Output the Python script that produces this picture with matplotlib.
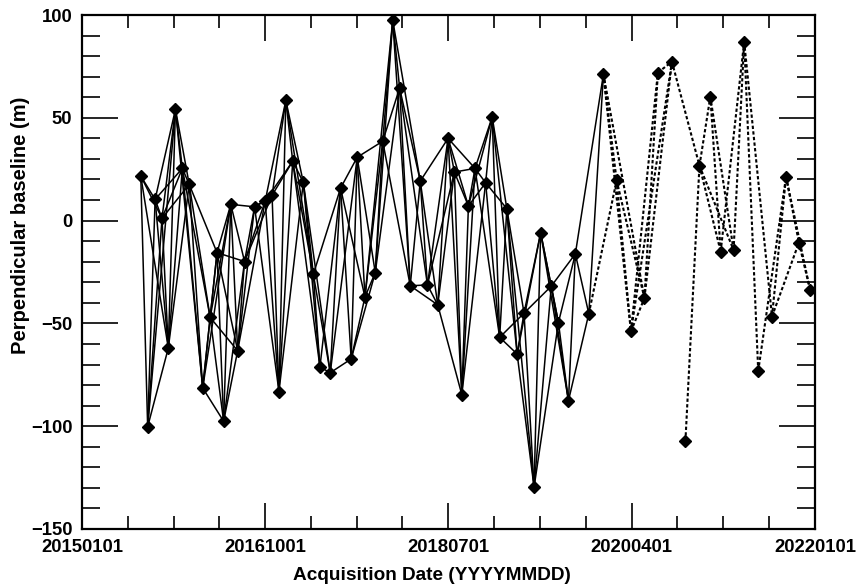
import matplotlib
matplotlib.use("Agg")
import matplotlib.pyplot as plt
import matplotlib.dates as mdates
from matplotlib.ticker import FixedLocator, MultipleLocator
import pandas as pd
import numpy as np

plt.rcParams['font.family'] = ['Liberation Sans', 'DejaVu Sans']
plt.rcParams['font.weight'] = 'bold'

# acquisition dates (YYYYMMDD)
dates = [
    "20150725", "20150818", "20150913", "20151007", "20151029", "20151123",
    "20151217", "20160110", "20160226", "20160323", "20160416", "20160509",
    "20160603", "20160627", "20160721", "20160825", "20161001", "20161025",
    "20161118", "20161212", "20170105", "20170211", "20170318", "20170410",
    "20170516", "20170621", "20170728", "20170818", "20170914", "20171020",
    "20171115", "20171220", "20180113", "20180219", "20180326", "20180420",
    "20180526", "20180701", "20180723", "20180818", "20180910", "20181003",
    "20181109", "20181202", "20181228", "20190122", "20190227", "20190323",
    "20190427", "20190520", "20190626", "20190721", "20190825", "20190918",
    "20191104", "20191225", "20200209", "20200330", "20200516", "20200702",
    "20200820", "20201006", "20201124", "20210101", "20210206", "20210323",
    "20210429", "20210617", "20210804", "20210922", "20211106", "20211215",
]

# perpendicular baseline (m)
bperp = [
    21.7, -100.3, 10.3, 1.1, -62.0, 54.2,
    25.4, 17.6, -81.4, -47.1, -15.6, -97.6,
    7.9, -63.3, -19.9, 6.7, 9.5, 12.3,
    -83.2, 58.5, 28.9, 18.6, -26.1, -71.2,
    -74.0, 15.8, -67.3, 30.8, -37.2, -25.3,
    38.6, 97.4, 64.5, -31.7, 19.2, -31.3,
    -41.0, 40.0, 23.6, -84.7, 7.1, 25.4,
    18.4, 50.4, -56.8, 5.8, -64.9, -45.0,
    -129.7, -5.9, -31.9, -49.6, -87.6, -16.2,
    -45.3, 71.2, 19.6, -53.9, -37.7, 72.0,
    77.3, -107.3, 26.7, 60.3, -15.1, -14.3,
    87.0, -73.2, -46.7, 21.3, -10.7, -33.8,
]

# number of forward (solid) interferometric links for each acquisition
solid_links = [
    4, 4, 4, 4, 3, 3, 3, 3, 4, 4, 4, 3, 3, 3, 3, 3, 4, 3, 3, 3,
    3, 3, 3, 2, 3, 3, 3, 3, 3, 3, 3, 3, 3, 3, 3, 3, 3, 4, 3, 3,
    3, 3, 3, 3, 3, 3, 3, 3, 3, 3, 3, 2, 2, 2, 1,
]

# dotted links (1-based acquisition index pairs)
dotted_pairs = [
    (55, 57), (56, 57), (56, 58), (56, 59), (57, 58), (57, 59),
    (58, 59), (58, 60), (58, 61), (59, 60), (59, 61), (60, 61),
    (61, 63), (62, 63), (63, 64), (63, 65), (63, 66), (64, 65),
    (64, 66), (65, 67), (66, 67), (67, 68), (67, 69), (68, 70),
    (69, 70), (69, 71), (70, 71), (70, 72), (71, 72),
]

xtick_labels = ["20150101", "20161001", "20180701", "20200401", "20220101"]

t = mdates.date2num(pd.to_datetime(dates, format="%Y%m%d").to_pydatetime())
b = np.array(bperp)

fig = plt.figure(figsize=(8.67, 5.86), dpi=100)
ax = fig.add_axes([0.0946, 0.0973, 0.8454, 0.8771])

for i, n in enumerate(solid_links):
    for j in range(i + 1, i + 1 + n):
        ax.plot([t[i], t[j]], [b[i], b[j]], color='black', lw=1.1,
                solid_capstyle='round', zorder=2)

for i, j in dotted_pairs:
    ax.plot([t[i - 1], t[j - 1]], [b[i - 1], b[j - 1]], color='black', lw=1.5,
            linestyle=(0, (1.6, 1.1)), zorder=2)

ax.plot(t, b, linestyle='none', marker='D', markersize=6,
        color='black', zorder=3)

major = mdates.date2num(pd.to_datetime(xtick_labels, format="%Y%m%d").to_pydatetime())
ax.set_xlim(major[0], major[-1])
ax.xaxis.set_major_locator(FixedLocator(major))
minor = []
for a0, a1 in zip(major[:-1], major[1:]):
    minor.extend(list(np.linspace(a0, a1, 5)[1:-1]))
ax.xaxis.set_minor_locator(FixedLocator(minor))
ax.set_xticklabels(xtick_labels)

ax.set_ylim(-150, 100)
ax.yaxis.set_major_locator(MultipleLocator(50))
ax.yaxis.set_minor_locator(MultipleLocator(10))

ax.tick_params(axis='x', which='major', direction='in', length=18.5, width=1.2,
               top=True, bottom=True, labelsize=13.3, pad=7)
ax.tick_params(axis='x', which='minor', direction='in', length=9.4, width=1.2,
               top=True, bottom=True)
ax.tick_params(axis='y', which='major', direction='in', length=26, width=1.2,
               left=True, right=True, labelsize=13.3, pad=7)
ax.tick_params(axis='y', which='minor', direction='in', length=13, width=1.2,
               left=True, right=True)
for lab in ax.get_xticklabels() + ax.get_yticklabels():
    lab.set_fontweight('bold')

for s in ax.spines.values():
    s.set_linewidth(1.6)

xl = ax.set_xlabel("Acquisition Date (YYYYMMDD)", fontsize=13.7, fontweight='bold')
yl = ax.set_ylabel("Perpendicular baseline (m)", fontsize=14.5, fontweight='bold')
xl.set_va('center')
yl.set_va('center')
ax.xaxis.set_label_coords(0.4768, -0.0914)
ax.yaxis.set_label_coords(-0.0846, 0.5914)

fig.savefig("out.png", dpi=100)
